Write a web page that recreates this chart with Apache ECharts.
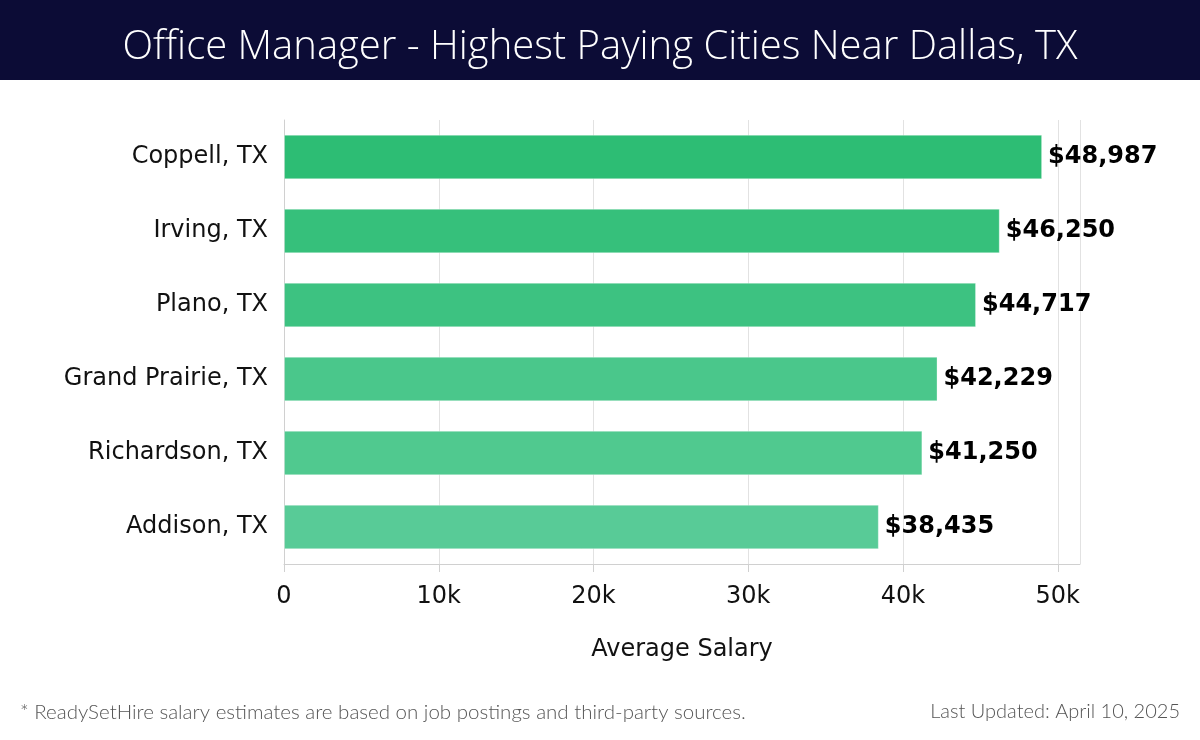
<!DOCTYPE html>
<html><head><meta charset="utf-8">
<script src="https://cdn.jsdelivr.net/npm/echarts@6/dist/echarts.min.js"></script>
<style>html,body{margin:0;padding:0;background:#fff}#c{width:1200px;height:740px}</style>
</head><body><div id="c"></div>
<script>
const titleText = 'Office Manager - Highest Paying Cities Near Dallas, TX';
const cities = ['Coppell, TX','Irving, TX','Plano, TX','Grand Prairie, TX','Richardson, TX','Addison, TX'];
const salaries = [48987, 46250, 44717, 42229, 41250, 38435];
const barColors = ['#2dbd74','#36c07b','#3dc281','#4ac78b','#50c98f','#58cb97'];
const xTicks = [0, 10000, 20000, 30000, 40000, 50000];
const axisName = 'Average Salary';
const footLeft = '* ReadySetHire salary estimates are based on job postings and third-party sources.';
const footRight = 'Last Updated: April 10, 2025';

const chart = echarts.init(document.getElementById('c'));
const catRev = cities.slice().reverse();
const dataRev = salaries.map((v,i)=>({value:v, itemStyle:{color:barColors[i]}})).reverse();
chart.setOption({
  animation:false,
  backgroundColor:'#fff',
  graphic:[
    {type:'rect', left:0, top:0, shape:{width:1200,height:80}, style:{fill:'#0c0c36'}, z:-1},
    {type:'text', left:20, top:702, style:{text:footLeft, fill:'#555', font:'300 20.5px Lato, "Open Sans", sans-serif'}},
    {type:'text', right:20, top:702, style:{text:footRight, fill:'#555', font:'300 20px Lato, "Open Sans", sans-serif'}}
  ],
  title:{text:titleText, left:'center', top:23, textStyle:{color:'#fff', fontSize:40, fontWeight:300, fontFamily:'"Open Sans", Lato, sans-serif'}},
  grid:{left:284, right:120, top:120, bottom:176},
  xAxis:{type:'value', min:0, max:Math.round(Math.max(...salaries)*1.05), interval:10000,
    name:axisName, nameLocation:'middle', nameGap:74,
    nameTextStyle:{fontSize:24, color:'#111', fontFamily:'"DejaVu Sans"'},
    axisLine:{show:true, lineStyle:{color:'#d0d0d0'}},
    axisTick:{show:true, length:8, lineStyle:{color:'#d0d0d0'}},
    axisLabel:{fontSize:24, color:'#111', margin:21, fontFamily:'"DejaVu Sans"', showMaxLabel:false,
      formatter:v=> xTicks.includes(v) ? (v===0?'0':(v/1000)+'k') : ''},
    splitLine:{show:true, lineStyle:{color:'#e2e2e2'}}
  },
  yAxis:{type:'category', data:catRev,
    axisLine:{show:true, lineStyle:{color:'#d0d0d0'}}, axisTick:{show:false},
    axisLabel:{fontSize:24, color:'#111', margin:16, fontFamily:'"DejaVu Sans"'}
  },
  series:[{type:'bar', data:dataRev, barWidth:'60%',
    itemStyle:{borderColor:'rgba(255,255,255,0.3)', borderWidth:1},
    label:{show:true, position:'right', distance:6, fontSize:24, fontWeight:'bold', color:'#000', fontFamily:'"DejaVu Sans"',
      formatter:p=>'$'+p.value.toLocaleString('en-US')}
  }]
});
</script></body></html>
